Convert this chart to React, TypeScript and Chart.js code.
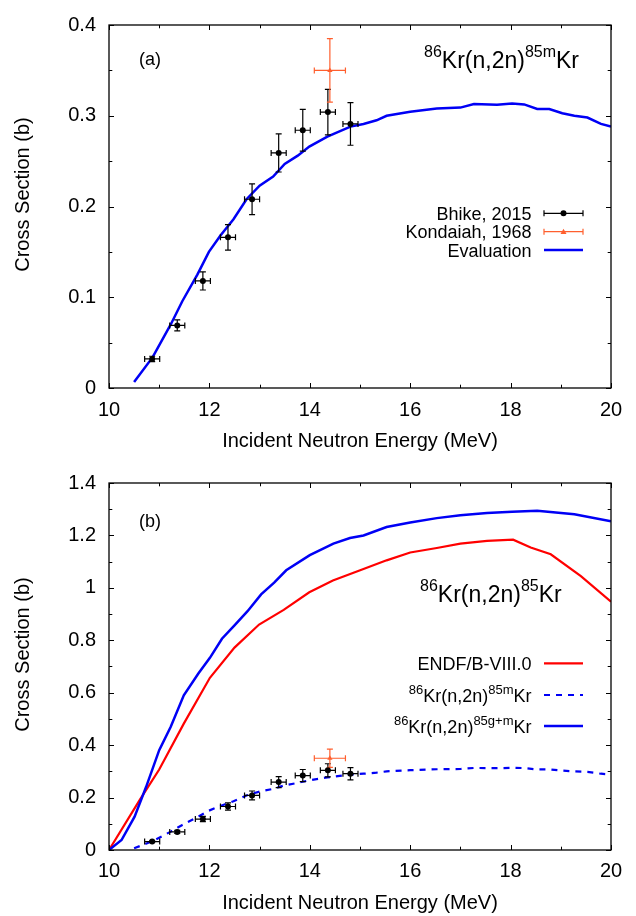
import React, { useEffect, useRef } from 'react';
import { Chart, registerables } from 'chart.js';
Chart.register(...registerables);

const FONT = "'Liberation Sans', Arial, Helvetica, sans-serif";

// ---------- data ----------
const bhikeEnergy = [10.86, 11.36, 11.87, 12.37, 12.85, 13.38, 13.86, 14.36, 14.81];
const bhikeXS = [0.032, 0.069, 0.118, 0.166, 0.208, 0.259, 0.284, 0.304, 0.291];
const bhikeDX = [0.15, 0.15, 0.15, 0.15, 0.15, 0.15, 0.15, 0.15, 0.15];
const bhikeDY = [0.003, 0.006, 0.010, 0.014, 0.017, 0.021, 0.023, 0.025, 0.0235];

const kondaiahEnergy = [14.4];
const kondaiahXS = [0.35];
const kondaiahDX = [0.31];
const kondaiahDY = [0.035];

const evalEnergy = [10.5, 10.87, 11.23, 11.46, 11.76, 11.99, 12.22, 12.48, 12.74, 13.0, 13.27, 13.5, 13.76, 13.99, 14.35, 14.81, 15.07, 15.33, 15.53, 16.0, 16.53, 17.0, 17.27, 17.73, 18.03, 18.27, 18.53, 18.77, 19.03, 19.27, 19.53, 19.8, 20.0];
const evalXS = [0.0065, 0.034, 0.070, 0.0956, 0.125, 0.150, 0.168, 0.186, 0.208, 0.223, 0.233, 0.247, 0.256, 0.266, 0.277, 0.288, 0.291, 0.295, 0.300, 0.3045, 0.308, 0.309, 0.313, 0.312, 0.3136, 0.3125, 0.3074, 0.3074, 0.3027, 0.300, 0.298, 0.291, 0.288];

const gmEnergy = [10.0, 10.25, 10.51, 10.74, 11.0, 11.23, 11.49, 11.78, 12.01, 12.25, 12.5, 12.76, 13.03, 13.29, 13.53, 14.0, 14.47, 14.8, 15.07, 15.53, 16.0, 16.53, 17.0, 17.53, 18.03, 18.53, 19.27, 20.0];
const gmXS = [0, 0.038, 0.127, 0.241, 0.381, 0.47, 0.59, 0.673, 0.733, 0.806, 0.857, 0.911, 0.975, 1.02, 1.067, 1.125, 1.169, 1.19, 1.20, 1.232, 1.249, 1.266, 1.277, 1.286, 1.29, 1.294, 1.281, 1.254];

const endfEnergy = [10.0, 10.61, 11.0, 11.49, 12.01, 12.5, 12.99, 13.48, 13.99, 14.46, 14.99, 15.53, 16.0, 16.53, 17.0, 17.53, 18.05, 18.4, 18.8, 19.4, 20.0];
const endfXS = [0, 0.19, 0.307, 0.482, 0.657, 0.772, 0.860, 0.916, 0.983, 1.028, 1.066, 1.105, 1.135, 1.152, 1.169, 1.179, 1.184, 1.154, 1.128, 1.045, 0.947];

const xTickLabels = ['10', '12', '14', '16', '18', '20'];

// ---------- styles ----------
const BLUE = '#0000f5';
const RED = '#ff0000';
const ORANGE = '#ff5f2e';
const BLACK = '#000000';

type Part = { t: string; sup?: boolean };
type LegendEntry = { parts: Part[]; kind: 'err' | 'line'; color: string; marker?: 'circle' | 'triangle'; dash?: number[]; width?: number };

function pts(xs: number[], ys: number[]) {
  return xs.map((x, i) => ({ x, y: ys[i] }));
}

function drawRich(ctx: CanvasRenderingContext2D, parts: Part[], x: number, y: number, size: number, supSize: number, raise: number, align: 'left' | 'right') {
  ctx.save();
  ctx.textBaseline = 'alphabetic';
  ctx.textAlign = 'left';
  ctx.fillStyle = '#000';
  const widths = parts.map((p) => {
    ctx.font = `${p.sup ? supSize : size}px ${FONT}`;
    return ctx.measureText(p.t).width;
  });
  const total = widths.reduce((a, b) => a + b, 0);
  let cx = align === 'right' ? x - total : x;
  parts.forEach((p, i) => {
    ctx.font = `${p.sup ? supSize : size}px ${FONT}`;
    ctx.fillText(p.t, cx, p.sup ? y - raise : y);
    cx += widths[i];
  });
  ctx.restore();
}

function drawMarker(ctx: CanvasRenderingContext2D, kind: 'circle' | 'triangle', x: number, y: number, color: string) {
  ctx.fillStyle = color;
  ctx.beginPath();
  if (kind === 'circle') {
    ctx.arc(x, y, 3, 0, Math.PI * 2);
  } else {
    ctx.moveTo(x, y - 3);
    ctx.lineTo(x + 3, y + 2.2);
    ctx.lineTo(x - 3, y + 2.2);
    ctx.closePath();
  }
  ctx.fill();
}

type ErrSet = { xs: number[]; ys: number[]; dx: number[]; dy: number[]; color: string };

type PanelCfg = {
  yMax: number;
  yStep: number;
  yMinor: number;
  plotTop: number;
  xAxisHeight: number;
  tickPad: number;
  titlePad: number;
  yTitleShift: number;
  panelLabel: string;
  panelLabelY: number;
  titleParts: Part[];
  titleX: number;
  titleBaseline: number;
  titleRaise: number;
  legend: LegendEntry[];
  legendRows: number[];
  legendSupSize: number;
  legendRaise: number;
  errSets: ErrSet[];
  errBeforeIndex: number;
  datasets: any[];
};

function makePlugin(cfg: PanelCfg) {
  return {
    id: 'panelDecor',
    beforeDatasetDraw(chart: any, args: any) {
      if (args.index !== cfg.errBeforeIndex) return;
      const ctx: CanvasRenderingContext2D = chart.ctx;
      const xs = chart.scales.x;
      const ys = chart.scales.y;
      ctx.save();
      ctx.lineWidth = 1.2;
      cfg.errSets.forEach((s) => {
        ctx.strokeStyle = s.color;
        s.xs.forEach((xv, i) => {
          const px = xs.getPixelForValue(xv);
          const py = ys.getPixelForValue(s.ys[i]);
          const x1 = xs.getPixelForValue(xv - s.dx[i]);
          const x2 = xs.getPixelForValue(xv + s.dx[i]);
          const y1 = ys.getPixelForValue(s.ys[i] - s.dy[i]);
          const y2 = ys.getPixelForValue(s.ys[i] + s.dy[i]);
          ctx.beginPath();
          ctx.moveTo(x1, py); ctx.lineTo(x2, py);
          ctx.moveTo(x1, py - 3); ctx.lineTo(x1, py + 3);
          ctx.moveTo(x2, py - 3); ctx.lineTo(x2, py + 3);
          ctx.moveTo(px, y1); ctx.lineTo(px, y2);
          ctx.moveTo(px - 3, y1); ctx.lineTo(px + 3, y1);
          ctx.moveTo(px - 3, y2); ctx.lineTo(px + 3, y2);
          ctx.stroke();
        });
      });
      ctx.restore();
    },
    afterDatasetsDraw(chart: any) {
      const ctx: CanvasRenderingContext2D = chart.ctx;
      const { left, right, top, bottom } = chart.chartArea;
      const xs = chart.scales.x;
      const ys = chart.scales.y;
      ctx.save();
      // frame
      ctx.strokeStyle = BLACK;
      ctx.lineWidth = 1.3;
      ctx.strokeRect(left, top, right - left, bottom - top);
      // ticks
      ctx.lineWidth = 1;
      ctx.beginPath();
      for (let v = 10; v <= 20.001; v += 1) {
        const major = Math.round(v) % 2 === 0;
        const len = major ? 5 : 3.3;
        const px = Math.round(xs.getPixelForValue(v)) + 0.5;
        ctx.moveTo(px, bottom); ctx.lineTo(px, bottom - len);
        ctx.moveTo(px, top); ctx.lineTo(px, top + len);
      }
      const n = Math.round(cfg.yMax / cfg.yMinor);
      for (let k = 0; k <= n; k++) {
        const v = k * cfg.yMinor;
        const major = k % Math.round(cfg.yStep / cfg.yMinor) === 0;
        const len = major ? 5 : 3.3;
        const py = Math.round(ys.getPixelForValue(v)) + 0.5;
        ctx.moveTo(left, py); ctx.lineTo(left + len, py);
        ctx.moveTo(right, py); ctx.lineTo(right - len, py);
      }
      ctx.stroke();

      // y axis title
      ctx.save();
      ctx.fillStyle = '#000';
      ctx.font = `20px ${FONT}`;
      ctx.textAlign = 'center';
      ctx.textBaseline = 'middle';
      ctx.translate(23, (top + bottom) / 2 - cfg.yTitleShift);
      ctx.rotate(-Math.PI / 2);
      ctx.fillText('Cross Section (b)', 0, 0);
      ctx.restore();

      // panel label
      ctx.fillStyle = '#000';
      ctx.font = `18px ${FONT}`;
      ctx.textBaseline = 'middle';
      ctx.textAlign = 'left';
      ctx.fillText(cfg.panelLabel, 139, cfg.panelLabelY);

      // title
      drawRich(ctx, cfg.titleParts, cfg.titleX, cfg.titleBaseline, 23, 16, cfg.titleRaise, 'left');

      // legend
      cfg.legend.forEach((e, i) => {
        const cy = cfg.legendRows[i];
        drawRich(ctx, e.parts, 531.5, cy + 6.5, 18, cfg.legendSupSize, cfg.legendRaise, 'right');
        const x1 = 544, x2 = 583;
        ctx.save();
        if (e.kind === 'line') {
          ctx.strokeStyle = e.color;
          ctx.lineWidth = e.width || 2.5;
          ctx.setLineDash(e.dash || []);
          ctx.beginPath();
          ctx.moveTo(x1, cy); ctx.lineTo(x2, cy);
          ctx.stroke();
        } else {
          ctx.strokeStyle = e.color;
          ctx.lineWidth = 1.2;
          ctx.beginPath();
          ctx.moveTo(x1, cy); ctx.lineTo(x2, cy);
          ctx.moveTo(x1, cy - 3); ctx.lineTo(x1, cy + 3);
          ctx.moveTo(x2, cy - 3); ctx.lineTo(x2, cy + 3);
          ctx.stroke();
          drawMarker(ctx, e.marker || 'circle', (x1 + x2) / 2, cy, e.color);
        }
        ctx.restore();
      });
      ctx.restore();
    },
  };
}

function buildConfig(cfg: PanelCfg): any {
  const tickFont = { family: FONT, size: 20 };
  return {
    type: 'scatter',
    data: { datasets: cfg.datasets },
    plugins: [makePlugin(cfg)],
    options: {
      responsive: false,
      animation: false,
      devicePixelRatio: 1,
      layout: { padding: { top: cfg.plotTop, right: 25, left: 0, bottom: 0 } },
      plugins: { legend: { display: false }, tooltip: { enabled: false }, title: { display: false } },
      scales: {
        x: {
          type: 'linear',
          min: 10,
          max: 20,
          ticks: {
            stepSize: 2,
            padding: cfg.tickPad,
            autoSkip: false,
            maxRotation: 0,
            font: tickFont,
            color: '#000',
            callback: (v: number) => {
              const idx = xTickLabels.indexOf(String(Math.round(v)));
              return idx >= 0 ? xTickLabels[idx] : '';
            },
          },
          grid: { display: false, drawTicks: false },
          border: { display: false },
          title: {
            display: true,
            text: 'Incident Neutron Energy (MeV)',
            font: tickFont,
            color: '#000',
            padding: { top: 0, bottom: cfg.titlePad },
          },
          afterFit: (s: any) => {
            s.height = cfg.xAxisHeight;
          },
        },
        y: {
          type: 'linear',
          min: 0,
          max: cfg.yMax,
          ticks: {
            stepSize: cfg.yStep,
            padding: 13,
            font: tickFont,
            color: '#000',
            callback: (v: number) => String(Math.round(v * 100) / 100),
          },
          grid: { display: false, drawTicks: false },
          border: { display: false },
          title: { display: false },
          afterFit: (s: any) => {
            s.width = 109;
          },
        },
      },
    },
  };
}

const errSetsCommon: ErrSet[] = [
  { xs: bhikeEnergy, ys: bhikeXS, dx: bhikeDX, dy: bhikeDY, color: BLACK },
  { xs: kondaiahEnergy, ys: kondaiahXS, dx: kondaiahDX, dy: kondaiahDY, color: ORANGE },
];

const pointSets = () => [
  {
    label: 'Bhike, 2015',
    data: pts(bhikeEnergy, bhikeXS),
    pointRadius: 3,
    pointStyle: 'circle',
    backgroundColor: BLACK,
    borderColor: BLACK,
    borderWidth: 0,
    showLine: false,
  },
  {
    label: 'Kondaiah, 1968',
    data: pts(kondaiahEnergy, kondaiahXS),
    pointRadius: 3,
    pointStyle: 'triangle',
    backgroundColor: ORANGE,
    borderColor: ORANGE,
    borderWidth: 0,
    showLine: false,
  },
];

const topCfg: PanelCfg = {
  yMax: 0.4,
  yStep: 0.1,
  yMinor: 0.05,
  plotTop: 21,
  xAxisHeight: 70,
  tickPad: 10,
  titlePad: 5,
  yTitleShift: 12,
  panelLabel: '(a)',
  panelLabelY: 60,
  titleParts: [{ t: '86', sup: true }, { t: 'Kr(n,2n)' }, { t: '85m', sup: true }, { t: 'Kr' }],
  titleX: 424,
  titleBaseline: 67.5,
  titleRaise: 11,
  legend: [
    { parts: [{ t: 'Bhike, 2015' }], kind: 'err', color: BLACK, marker: 'circle' },
    { parts: [{ t: 'Kondaiah, 1968' }], kind: 'err', color: ORANGE, marker: 'triangle' },
    { parts: [{ t: 'Evaluation' }], kind: 'line', color: BLUE, width: 2.5 },
  ],
  legendRows: [213.3, 231.7, 250],
  legendSupSize: 13,
  legendRaise: 8,
  errSets: errSetsCommon,
  errBeforeIndex: 1,
  datasets: [
    ...pointSets(),
    {
      label: 'Evaluation',
      data: pts(evalEnergy, evalXS),
      showLine: true,
      pointRadius: 0,
      borderColor: BLUE,
      borderWidth: 2.5,
      tension: 0,
    },
  ],
};

const bottomCfg: PanelCfg = {
  yMax: 1.4,
  yStep: 0.2,
  yMinor: 0.1,
  plotTop: 25,
  xAxisHeight: 66,
  tickPad: 9,
  titlePad: 1,
  yTitleShift: 12,
  panelLabel: '(b)',
  panelLabelY: 63.7,
  titleParts: [{ t: '86', sup: true }, { t: 'Kr(n,2n)' }, { t: '85', sup: true }, { t: 'Kr' }],
  titleX: 420,
  titleBaseline: 143.7,
  titleRaise: 11,
  legend: [
    { parts: [{ t: 'ENDF/B-VIII.0' }], kind: 'line', color: RED, width: 2.2 },
    { parts: [{ t: '86', sup: true }, { t: 'Kr(n,2n)' }, { t: '85m', sup: true }, { t: 'Kr' }], kind: 'line', color: BLUE, dash: [6, 6], width: 2.2 },
    { parts: [{ t: '86', sup: true }, { t: 'Kr(n,2n)' }, { t: '85g+m', sup: true }, { t: 'Kr' }], kind: 'line', color: BLUE, width: 2.5 },
  ],
  legendRows: [205.3, 237, 268],
  legendSupSize: 13,
  legendRaise: 8,
  errSets: errSetsCommon,
  errBeforeIndex: 1,
  datasets: [
    ...pointSets(),
    {
      label: '86Kr(n,2n)85mKr',
      data: pts(evalEnergy, evalXS),
      showLine: true,
      pointRadius: 0,
      borderColor: BLUE,
      borderWidth: 2.2,
      borderDash: [6, 6],
      tension: 0,
    },
    {
      label: '86Kr(n,2n)85g+mKr',
      data: pts(gmEnergy, gmXS),
      showLine: true,
      pointRadius: 0,
      borderColor: BLUE,
      borderWidth: 2.5,
      tension: 0,
    },
    {
      label: 'ENDF/B-VIII.0',
      data: pts(endfEnergy, endfXS),
      showLine: true,
      pointRadius: 0,
      borderColor: RED,
      borderWidth: 2.2,
      tension: 0,
    },
  ],
};

function Panel({ cfg, top }: { cfg: PanelCfg; top: number }) {
  const ref = useRef<HTMLCanvasElement | null>(null);
  useEffect(() => {
    if (!ref.current) return;
    const chart = new Chart(ref.current, buildConfig(cfg));
    return () => chart.destroy();
  }, [cfg]);
  return (
    <canvas
      ref={ref}
      width={636}
      height={458}
      style={{ position: 'absolute', left: 0, top, width: 636, height: 458, display: 'block' }}
    />
  );
}

export default function App() {
  return (
    <div style={{ position: 'absolute', left: 0, top: 0, width: 636, height: 916, background: '#fff' }}>
      <Panel cfg={topCfg} top={0} />
      <Panel cfg={bottomCfg} top={458} />
    </div>
  );
}
